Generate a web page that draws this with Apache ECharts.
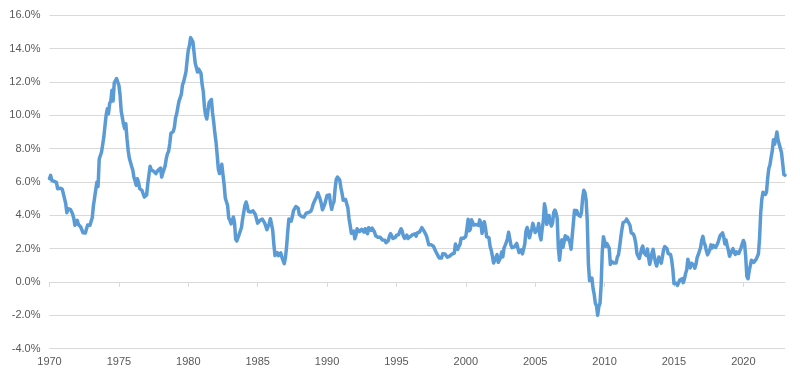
<!DOCTYPE html>
<html>
<head>
<meta charset="utf-8">
<script src="https://cdn.jsdelivr.net/npm/echarts@6/dist/echarts.min.js"></script>
<style>
html,body{margin:0;padding:0;background:#ffffff;}
#chart{width:800px;height:380px;}
</style>
</head>
<body>
<div id="chart"></div>
<script>
// Monthly year-over-year inflation (%), starting January 1970
const startYear = 1970;
const tickYears = ['1970','1975','1980','1985','1990','1995','2000','2005','2010','2015','2020'];

const cpi1970s = [
  6.2, 6.4, 6.1, 6.06, 6.04, 6.01, 5.98, 5.6, 5.66, 5.63, 5.6, 5.57,
  5.29, 5.0, 4.71, 4.16, 4.4, 4.4, 4.36, 4.4, 4.08, 3.81, 3.4, 3.3,
  3.7, 3.45, 3.4, 3.3, 3.23, 2.95, 2.95, 2.94, 3.19, 3.42, 3.45, 3.41,
  3.65, 3.87, 4.59, 5.06, 5.53, 6.0, 5.73, 7.38, 7.36, 7.8, 8.25, 8.71,
  9.39, 10.02, 10.39, 10.09, 10.71, 10.86, 11.51, 10.86, 11.95, 12.06, 12.2, 12.1,
  11.8, 11.23, 10.25, 10.21, 9.47, 9.2, 9.5, 8.6, 7.91, 7.44, 7.38, 6.94,
  6.72, 6.29, 6.07, 5.8, 6.2, 5.97, 5.6, 5.71, 5.49, 5.46, 5.1, 5.1,
  5.22, 5.91, 6.44, 6.95, 6.73, 6.7, 6.65, 6.62, 6.5, 6.39, 6.72, 6.7,
  6.84, 6.3, 6.55, 6.5, 6.97, 7.41, 7.7, 7.84, 8.31, 8.93, 8.89, 9.02,
  9.28, 9.86, 10.09, 10.49, 10.85, 10.89, 11.26, 11.82, 12.0, 12.07, 12.61, 13.29
];
const cpi1980s = [
  13.91, 14.18, 14.66, 14.6, 14.41, 14.3, 13.13, 12.87, 12.6, 12.77, 12.65, 12.52,
  11.83, 11.41, 10.49, 10.0, 9.78, 9.7, 10.76, 10.8, 10.95, 10.14, 9.59, 8.92,
  8.39, 7.62, 6.78, 6.51, 6.68, 7.06, 6.44, 5.85, 5.04, 5.14, 4.59, 3.83,
  3.71, 3.49, 3.6, 3.9, 3.55, 2.58, 2.46, 2.56, 2.86, 2.85, 3.27, 3.79,
  4.19, 4.6, 4.8, 4.56, 4.23, 4.22, 4.2, 4.29, 4.27, 4.26, 4.05, 3.95,
  3.53, 3.52, 3.7, 3.69, 3.77, 3.76, 3.55, 3.35, 3.14, 3.23, 3.51, 3.8,
  3.89, 3.11, 2.26, 1.59, 1.49, 1.77, 1.58, 1.57, 1.75, 1.47, 1.28, 1.1,
  1.46, 2.1, 3.03, 3.78, 3.86, 3.65, 3.93, 4.28, 4.36, 4.53, 4.53, 4.43,
  4.05, 3.94, 3.93, 3.9, 3.89, 3.96, 4.13, 4.02, 4.17, 4.25, 4.25, 4.42,
  4.67, 4.83, 4.98, 5.12, 5.36, 5.17, 4.98, 4.71, 4.34, 4.49, 4.66, 4.65
];
const cpi1990s = [
  5.2, 5.26, 5.23, 4.71, 4.36, 4.67, 4.82, 5.62, 6.16, 6.29, 6.27, 6.11,
  5.65, 5.31, 4.9, 4.89, 4.95, 4.7, 4.45, 3.8, 3.39, 2.92, 2.99, 3.06,
  2.6, 2.82, 3.19, 3.18, 3.02, 3.09, 3.16, 3.15, 2.99, 3.2, 3.05, 2.9,
  3.26, 3.25, 3.09, 3.23, 3.22, 3.0, 2.78, 2.77, 2.69, 2.75, 2.68, 2.75,
  2.52, 2.52, 2.51, 2.36, 2.29, 2.49, 2.77, 2.9, 2.96, 2.61, 2.67, 2.67,
  2.8, 2.86, 2.85, 3.05, 3.19, 3.04, 2.76, 2.62, 2.54, 2.81, 2.61, 2.54,
  2.73, 2.65, 2.84, 2.9, 2.89, 2.75, 2.95, 2.88, 3.0, 2.99, 3.26, 3.32,
  3.04, 3.03, 2.76, 2.5, 2.23, 2.3, 2.23, 2.23, 2.15, 2.08, 1.83, 1.7,
  1.57, 1.44, 1.37, 1.44, 1.69, 1.68, 1.68, 1.62, 1.49, 1.49, 1.55, 1.61,
  1.67, 1.61, 1.73, 2.28, 2.09, 1.96, 2.14, 2.26, 2.63, 2.56, 2.62, 2.68
];
const cpi2000s = [
  2.74, 3.22, 3.76, 3.07, 3.19, 3.73, 3.66, 3.41, 3.45, 3.45, 3.45, 3.39,
  3.73, 3.53, 2.92, 3.27, 3.62, 3.25, 2.72, 2.72, 2.65, 2.13, 1.9, 1.55,
  1.14, 1.14, 1.48, 1.64, 1.18, 1.07, 1.46, 1.8, 1.51, 2.03, 2.2, 2.38,
  2.6, 2.98, 3.02, 2.22, 2.06, 2.11, 2.11, 2.16, 2.32, 2.04, 1.77, 1.88,
  1.93, 1.69, 1.74, 2.29, 3.05, 3.27, 2.99, 2.65, 2.54, 3.19, 3.52, 3.26,
  2.97, 3.01, 3.15, 3.51, 2.8, 2.53, 3.17, 3.64, 4.69, 4.35, 3.46, 3.42,
  3.99, 3.6, 3.36, 3.55, 4.17, 4.32, 4.15, 3.82, 2.06, 1.31, 1.97, 2.54,
  2.08, 2.42, 2.78, 2.57, 2.69, 2.69, 2.36, 1.97, 2.76, 3.54, 4.31, 4.08,
  4.28, 4.03, 3.98, 3.94, 4.18, 5.02, 5.5, 5.37, 4.94, 3.66, 1.07, 0.09,
  0.03, 0.24, -0.38, -0.74, -1.28, -1.43, -2.0, -1.48, -1.29, -0.18, 1.84, 2.72
];
const cpi2010s = [
  2.63, 2.14, 2.31, 2.24, 2.02, 1.05, 1.24, 1.15, 1.14, 1.17, 1.14, 1.5,
  1.63, 2.11, 2.68, 3.16, 3.57, 3.56, 3.63, 3.77, 3.87, 3.53, 3.39, 2.96,
  2.93, 2.87, 2.65, 2.3, 1.7, 1.66, 1.41, 1.69, 1.99, 2.16, 1.76, 1.74,
  1.59, 1.98, 1.47, 1.06, 1.36, 1.75, 1.96, 1.52, 1.18, 0.96, 1.24, 1.5,
  1.58, 1.13, 1.51, 1.95, 2.13, 2.07, 1.99, 1.7, 1.66, 1.66, 1.32, 0.76,
  -0.09, -0.03, -0.07, -0.2, -0.04, 0.12, 0.17, 0.2, -0.04, 0.17, 0.5, 0.73,
  1.37, 1.02, 0.85, 1.13, 1.02, 1.01, 0.83, 1.06, 1.46, 1.64, 1.69, 2.07,
  2.5, 2.74, 2.38, 2.2, 1.87, 1.63, 1.73, 1.94, 2.23, 2.04, 2.2, 2.11,
  2.07, 2.21, 2.36, 2.46, 2.8, 2.87, 2.95, 2.7, 2.28, 2.52, 2.18, 1.91,
  1.55, 1.52, 1.86, 2.0, 1.79, 1.65, 1.81, 1.75, 1.71, 1.76, 2.05, 2.29
];
const cpi2020s = [
  2.49, 2.33, 1.54, 0.33, 0.2, 0.65, 0.99, 1.31, 1.37, 1.18, 1.17, 1.36,
  1.4, 1.68, 2.62, 4.16, 4.99, 5.39, 5.37, 5.25, 5.39, 6.22, 6.81, 7.04,
  7.48, 7.87, 8.54, 8.26, 8.58, 9.0, 8.52, 8.26, 8.2, 7.75, 7.11, 6.45,
  6.41
];

const values = [].concat(cpi1970s, cpi1980s, cpi1990s, cpi2000s, cpi2010s, cpi2020s);
const months = values.map((_, i) => (startYear + Math.floor(i / 12)) + '-' + String(i % 12 + 1).padStart(2, '0'));
const isTick = (v) => v.slice(5) === '01' && tickYears.indexOf(v.slice(0, 4)) >= 0;

const chart = echarts.init(document.getElementById('chart'), null, { renderer: 'canvas' });
const labelFont = { color: '#595959', fontSize: 11, fontFamily: 'Liberation Sans, Arial, sans-serif' };

chart.setOption({
  animation: false,
  backgroundColor: '#ffffff',
  grid: { left: 49.5, right: 15, top: 15.3, bottom: 31.3, containLabel: false },
  xAxis: [
    {
      type: 'category',
      data: months,
      boundaryGap: false,
      position: 'bottom',
      axisLine: { show: true, onZero: true, lineStyle: { color: '#d9d9d9', width: 1 } },
      axisTick: { show: true, interval: (i, v) => isTick(v), length: 5, lineStyle: { color: '#d9d9d9', width: 1 } },
      axisLabel: { show: false },
      splitLine: { show: false }
    },
    {
      type: 'category',
      data: months,
      boundaryGap: false,
      position: 'bottom',
      axisLine: { show: false, onZero: false },
      axisTick: { show: false },
      axisLabel: Object.assign({
        interval: (i, v) => isTick(v),
        formatter: (v) => v.slice(0, 4),
        margin: 8
      }, labelFont),
      splitLine: { show: false }
    }
  ],
  yAxis: {
    type: 'value',
    min: -4,
    max: 16,
    interval: 2,
    axisLine: { show: false },
    axisTick: { show: false },
    axisLabel: Object.assign({
      formatter: (v) => v.toFixed(1) + '%',
      margin: 9
    }, labelFont),
    splitLine: { show: true, lineStyle: { color: '#d9d9d9', width: 1 } }
  },
  series: [{
    type: 'line',
    xAxisIndex: 0,
    data: values,
    showSymbol: false,
    symbol: 'none',
    smooth: false,
    lineStyle: { color: '#5B9BD5', width: 3.5, cap: 'round', join: 'round' },
    emphasis: { disabled: true }
  }]
});
</script>
</body>
</html>
